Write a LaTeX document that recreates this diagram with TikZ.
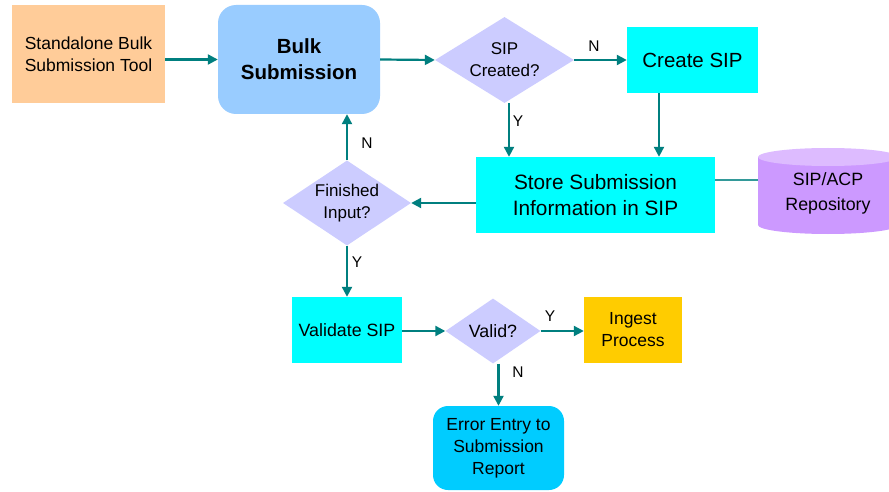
\documentclass[tikz,border=0pt]{standalone}
\usepackage{fontspec}
\setmainfont{Liberation Sans}
\usetikzlibrary{shapes.geometric,arrows.meta}
\definecolor{peach}{HTML}{FFCC99}
\definecolor{bulkblue}{HTML}{99CCFF}
\definecolor{lav}{HTML}{CCCCFF}
\definecolor{cyanbox}{HTML}{00FFFF}
\definecolor{goldbox}{HTML}{FFCC00}
\definecolor{errblue}{HTML}{00CCFF}
\definecolor{arrowteal}{HTML}{007F7F}
\definecolor{cylbody}{HTML}{CC99FF}
\definecolor{cyltop}{HTML}{DDBBFF}
\newcommand{\fsz}[2]{\fontsize{#1}{#2}\selectfont}
\tikzset{
  box/.style={rectangle, inner sep=0pt, align=center, text=black},
  dia/.style={diamond, fill=lav, inner sep=0pt, align=center, font=\fsz{17}{22}},
  arr/.style={draw=arrowteal, line width=2.2pt, -{Triangle[length=10pt,width=10pt]}},
  conn/.style={draw=arrowteal!80, line width=1.2pt},
  lbl/.style={font=\fsz{15.5}{18}, inner sep=0pt}
}
\begin{document}
\begin{tikzpicture}[x=1pt,y=-1pt]
\useasboundingbox[fill=white] (0,0) rectangle (889,492);

% nodes
\node[box, fill=peach, minimum width=153pt, minimum height=98pt, font=\fsz{17.5}{22}] (tool) at (88.5,54) {Standalone Bulk\\Submission Tool};
\node[box, fill=bulkblue, rounded corners=18pt, minimum width=162pt, minimum height=109pt, font=\bfseries\fsz{20.5}{26}] (bulk) at (299,59.5) {Bulk\\Submission};
\node[dia, aspect=1.62, minimum width=139pt, minimum height=86pt] (sipq) at (504.5,60) {SIP\\Created?};
\node[box, fill=cyanbox, minimum width=131pt, minimum height=66pt, font=\fsz{20.5}{25}] (create) at (692.5,60) {Create SIP};
\node[box, fill=cyanbox, minimum width=239pt, minimum height=76pt, font=\fsz{20.8}{26}] (store) at (595.5,195) {Store Submission\\Information in SIP};

% cylinder
\fill[cylbody] (758,157) rectangle (898,225);
\fill[cylbody] (828,225) ellipse [x radius=70, y radius=9];
\fill[cyltop] (828,157) ellipse [x radius=70, y radius=9];
\node[box, minimum width=140pt, minimum height=86pt, font=\fsz{17.8}{25}] (cyl) at (828,193) {SIP/ACP\\Repository};

\node[dia, aspect=1.5, minimum width=128pt, minimum height=85pt] (finq) at (347,203) {Finished\\Input?};
\node[box, fill=cyanbox, minimum width=110pt, minimum height=66pt, font=\fsz{17.8}{22}] (validate) at (347,330) {Validate SIP};
\node[dia, aspect=1.46, minimum width=95pt, minimum height=65pt, font=\fsz{17.8}{22}] (valid) at (493,331) {Valid?};
\node[box, fill=goldbox, minimum width=98pt, minimum height=66pt, font=\fsz{17.5}{22}] (ingest) at (633,330) {Ingest\\Process};
\node[box, fill=errblue, rounded corners=15pt, minimum width=131pt, minimum height=84pt, font=\fsz{17.5}{22}] (error) at (498.5,448) {Error Entry to\\Submission\\Report};

% connectors
\draw[arr] (tool.east |- bulk.west) -- (bulk.west);
\draw[arr] (bulk.east) -- (sipq.west);
\draw[arr] (sipq.east) -- (create.west);
\draw[arr] ([xshift=4.5pt]sipq.south) -- ([xshift=4.5pt]sipq.south |- store.north);
\draw[arr] ([xshift=-33.5pt]create.south) -- ([xshift=-33.5pt]create.south |- store.north);
\draw[conn] ([yshift=15pt]store.east) -- ([yshift=15pt]store.east -| cyl.west);
\draw[arr] ([yshift=-8pt]store.west) -- ([yshift=-8pt]store.west -| finq.east);
\draw[arr] (finq.north) -- (finq.north |- bulk.south);
\draw[arr] (finq.south) -- (validate.north);
\draw[arr] (validate.east |- valid.west) -- (valid.west);
\draw[arr] (valid.east) -- (valid.east -| ingest.west);
\draw[arr] ([xshift=5.5pt]valid.south) -- ([xshift=5.5pt]valid.south |- error.north);

% labels
\node[lbl] (ln1) at (594,46) {N};
\node[lbl] (ly1) at (518,121) {Y};
\node[lbl] (ln2) at (367,143) {N};
\node[lbl] (ly2) at (357,262) {Y};
\node[lbl] (ly3) at (550,316) {Y};
\node[lbl] (ln3) at (518,372) {N};
\end{tikzpicture}
\end{document}
